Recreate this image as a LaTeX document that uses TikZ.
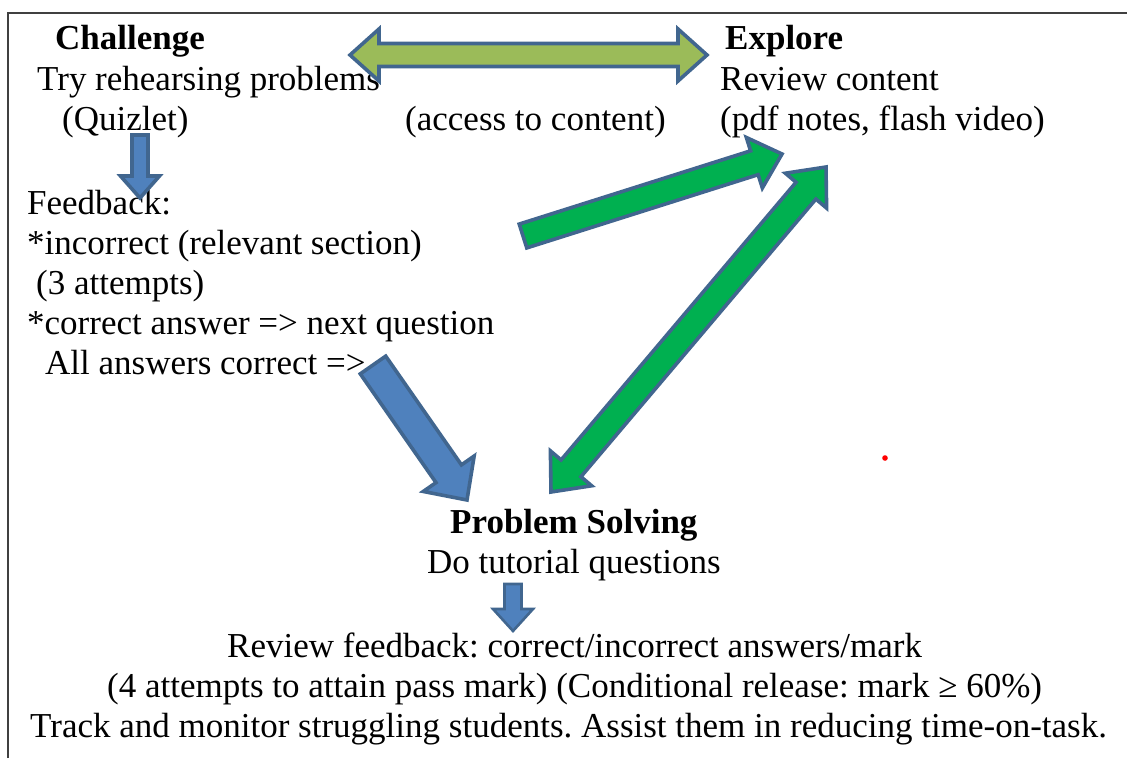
\documentclass[tikz,border=0pt]{standalone}
\usepackage{fontspec}
\setmainfont{Liberation Serif}
\usetikzlibrary{calc}
\frenchspacing

\definecolor{arrowline}{HTML}{41668F}
\definecolor{bluefill}{HTML}{4F81BD}
\definecolor{limefill}{HTML}{9BBB59}
\definecolor{greenfill}{HTML}{00B050}
\definecolor{framegray}{HTML}{404040}

% single block arrow: style, tail, tip, shaft half width, head half width, head length
\newcommand{\oneway}[6]{%
  \coordinate (#2h) at ($(#3)!#6!(#2)$);
  \draw[#1] ($(#2)!#4!90:(#3)$) -- ($(#2h)!#4!-90:(#2)$) -- ($(#2h)!#5!-90:(#2)$)
    -- (#3) -- ($(#2h)!#5!90:(#2)$) -- ($(#2h)!#4!90:(#2)$) -- ($(#2)!#4!-90:(#3)$) -- cycle;}
% double block arrow: style, end A, end B, shaft half width, head half width, head length
\newcommand{\twoway}[6]{%
  \coordinate (#2h) at ($(#2)!#6!(#3)$);
  \coordinate (#3h) at ($(#3)!#6!(#2)$);
  \draw[#1] (#2) -- ($(#2h)!#5!90:(#3)$) -- ($(#2h)!#4!90:(#3)$) -- ($(#3h)!#4!-90:(#2)$)
    -- ($(#3h)!#5!-90:(#2)$) -- (#3) -- ($(#3h)!#5!90:(#2)$) -- ($(#3h)!#4!90:(#2)$)
    -- ($(#2h)!#4!-90:(#3)$) -- ($(#2h)!#5!-90:(#3)$) -- cycle;}

\tikzset{
  txt/.style={anchor=base west, inner sep=0pt, font=\fontsize{35}{40}\selectfont},
  head/.style={txt, font=\fontsize{35}{40}\selectfont\bfseries},
  blockarrow/.style={draw=arrowline, line width=3.6pt, line join=miter, miter limit=10},
}

\begin{document}
\begin{tikzpicture}[x=1pt, y=-1pt]
\useasboundingbox (0,0) rectangle (1127,758);

% frame
\draw[framegray, line width=1.6pt] (8,758) -- (8,13) -- (1127,13);

% Challenge
\node[head] (chal) at (55,49) {Challenge};
\node[txt] (chal1) at (37,90) {Try rehearsing problems};
\node[txt] (chal2) at (62,130) {(Quizlet)};
\node[txt] (access) at (405,130) {(access to content)};

% Explore
\node[head] (expl) at (725,49) {Explore};
\node[txt] (expl1) at (720,90) {Review content};
\node[txt] (expl2) at (720,130) {(pdf notes, flash video)};

% Feedback
\node[txt] (fb0) at (27,214) {Feedback:};
\node[txt] (fb1) at (27,254) {*incorrect (relevant section)};
\node[txt] (fb2) at (36,294) {(3 attempts)};
\node[txt] (fb3) at (27,334) {*correct answer => next question};
\node[txt] (fb4) at (45,374) {All answers correct =>};

% Problem solving
\node[head] (ps) at (450,533) {Problem Solving};
\node[txt] (ps1) at (427,573) {Do tutorial questions};
\node[txt] (rv1) at (227,657) {Review feedback: correct/incorrect answers/mark};
\node[txt] (rv2) at (107,697) {(4 attempts to attain pass mark) (Conditional release: mark ≥ 60\%)};
\node[txt] (rv3) at (30,737) {Track and monitor struggling students. Assist them in reducing time-on-task.};

% arrow end points
\coordinate (ceL) at (350,55);
\coordinate (ceR) at (707,55);
\coordinate (qzT) at (140,135);
\coordinate (qzB) at (140,198);
\coordinate (acT) at (373,365);
\coordinate (acB) at (467,500);
\coordinate (rcT) at (523,236);
\coordinate (rcB) at (782,154);
\coordinate (peL) at (551,492);
\coordinate (peR) at (826,167);
\coordinate (tqT) at (513,584);
\coordinate (tqB) at (513,631);

% arrows
\twoway{blockarrow, fill=limefill}{ceL}{ceR}{11.5pt}{26pt}{29pt}
\oneway{blockarrow, fill=bluefill}{qzT}{qzB}{8pt}{19.5pt}{22pt}
\oneway{blockarrow, fill=bluefill}{acT}{acB}{15.5pt}{31pt}{32pt}
\oneway{blockarrow, fill=greenfill}{rcT}{rcB}{12.5pt}{26.5pt}{29pt}
\twoway{blockarrow, fill=greenfill}{peL}{peR}{13pt}{27pt}{31pt}
\oneway{blockarrow, line width=2.6pt, fill=bluefill}{tqT}{tqB}{8.5pt}{20pt}{22pt}

% stray mark
\fill[red] (885,458) circle (2.8pt);
\end{tikzpicture}
\end{document}
